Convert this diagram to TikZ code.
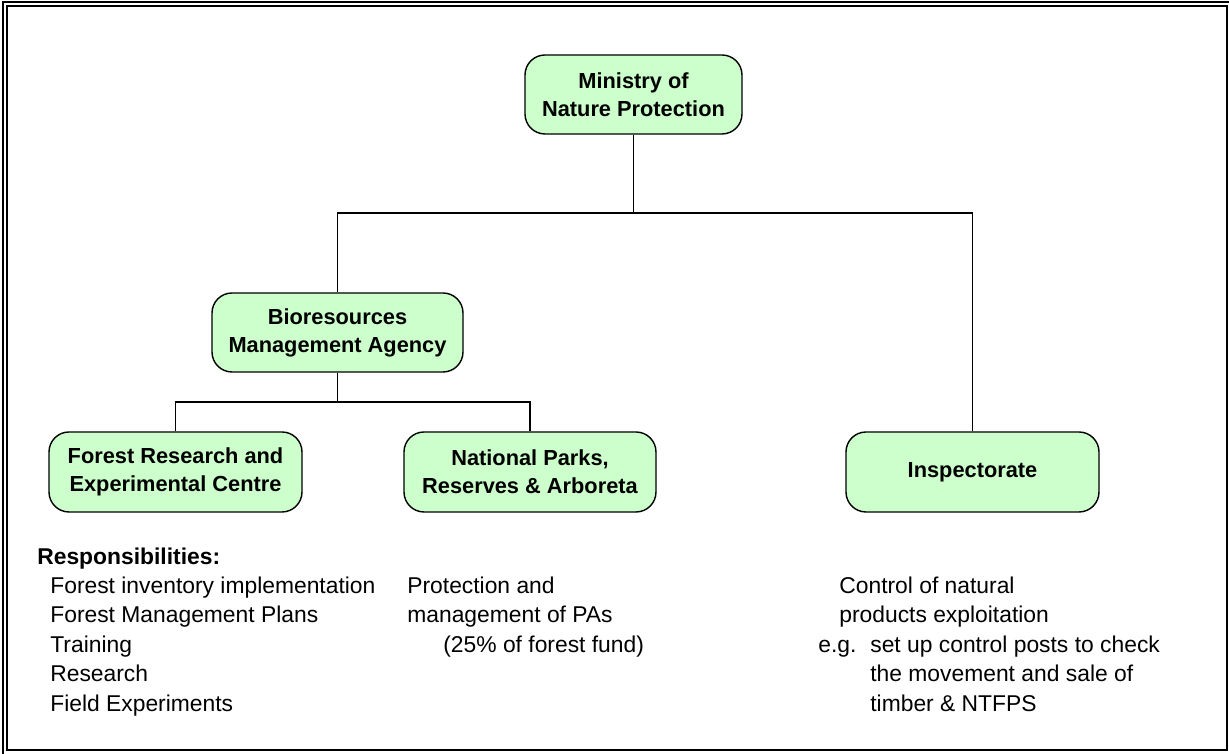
\documentclass[tikz,border=0pt]{standalone}
\usepackage{fontspec}
\setmainfont{Liberation Sans}
\definecolor{boxgreen}{HTML}{CCFFCC}
\tikzset{
  orgbox/.style={draw, line width=0.8pt, fill=boxgreen, rounded corners=0.4cm,
    align=center, inner sep=0pt, minimum height=1.58cm,
    font=\fontsize{12.4}{16}\selectfont\bfseries},
  txt/.style={anchor=base west, inner sep=0pt, font=\fontsize{13}{16}\selectfont}
}
\begin{document}
\begin{tikzpicture}
\useasboundingbox (0,0) rectangle (24.58,15.08);
\draw[line width=1.1pt] (0.06,-0.08) rectangle (24.66,15.04);
\draw[line width=1.4pt] (0.14,0.08) rectangle (24.54,14.96);

\node[orgbox, minimum width=4.34cm] (ministry) at (12.67,13.19) {Ministry of\\Nature Protection};
\node[orgbox, minimum width=5.02cm] (bioagency) at (6.75,8.43) {Bioresources\\Management Agency};
\node[orgbox, minimum width=5.06cm, minimum height=1.6cm] (forestres) at (3.51,5.64) {Forest Research and\\Experimental Centre};
\node[orgbox, minimum width=5.04cm, minimum height=1.6cm] (natparks) at (10.60,5.64) {National Parks,\\Reserves \& Arboreta};
\node[orgbox, minimum width=5.06cm, minimum height=1.6cm] (inspect) at (19.45,5.64) {Inspectorate};

\coordinate (topbar) at (12.67,10.82);
\coordinate (lowbar) at (6.75,7.04);
\draw[line width=0.8pt] (ministry) -- (topbar);
\draw[line width=0.8pt] (bioagency.north) |- (topbar) -| (inspect.north);
\draw[line width=0.8pt] (bioagency) -- (lowbar);
\draw[line width=0.8pt] (forestres.north) |- (lowbar) -| (natparks.north);

\node[txt, font=\fontsize{13}{16}\selectfont\bfseries] (resp) at (0.74,3.78) {Responsibilities:};
\node[txt] (resp1) at (1.00,3.21) {Forest inventory implementation};
\node[txt] (resp2) at (1.00,2.62) {Forest Management Plans};
\node[txt] (resp3) at (1.00,2.03) {Training};
\node[txt] (resp4) at (1.00,1.44) {Research};
\node[txt] (resp5) at (1.00,0.85) {Field Experiments};

\node[txt] (park1) at (8.14,3.21) {Protection and};
\node[txt] (park2) at (8.14,2.62) {management of PAs};
\node[txt] (park3) at (8.86,2.03) {(25\% of forest fund)};

\node[txt] (insp1) at (16.78,3.21) {Control of natural};
\node[txt] (insp2) at (16.78,2.62) {products exploitation};
\node[txt] (insp3) at (16.36,2.03) {e.g.};
\node[txt] (insp4) at (17.40,2.03) {set up control posts to check};
\node[txt] (insp5) at (17.40,1.44) {the movement and sale of};
\node[txt] (insp6) at (17.40,0.85) {timber \& NTFPS};
\end{tikzpicture}
\end{document}
